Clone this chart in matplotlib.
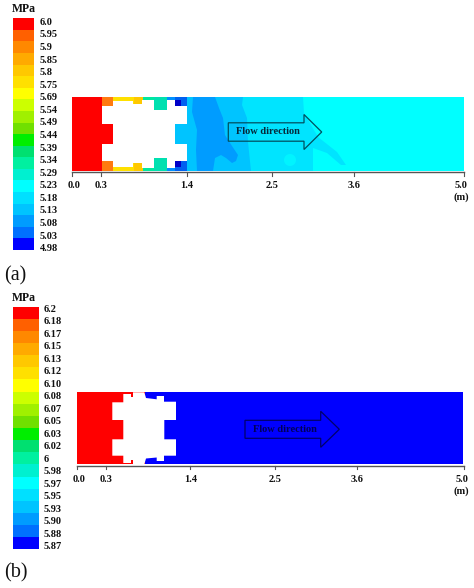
import matplotlib
matplotlib.use("Agg")
import matplotlib.pyplot as plt
from matplotlib.patches import Polygon, Rectangle, Circle

plt.rcParams['font.family'] = ['Liberation Serif', 'DejaVu Serif']

# ---- data -----------------------------------------------------------
labels_a = ["6.0","5.95","5.9","5.85","5.8","5.75","5.69","5.54","5.49","5.44",
            "5.39","5.34","5.29","5.23","5.18","5.13","5.08","5.03","4.98"]
labels_b = ["6.2","6.18","6.17","6.15","6.13","6.12","6.10","6.08","6.07","6.05",
            "6.03","6.02","6","5.98","5.97","5.95","5.93","5.90","5.88","5.87"]
swatches = ["#ff0000","#ff6000","#ff8800","#ffaa00","#ffc800","#ffe000","#ffff00",
            "#ccff00","#a0f000","#70e000","#00ee00","#00e070","#00f0a0","#00f0d0",
            "#00ffff","#00e0ff","#00c4ff","#009cff","#0070ff","#0000ff"]
tick_labels = ["0.0","0.3","1.4","2.5","3.6","5.0"]
ticks_a = [72.5,101.5,187,272.5,354.5,464]
ticks_b = [77,106,190.5,275,356.7,464.5]

W, H = 474, 588
fig = plt.figure(figsize=(W/100, H/100), dpi=100)
ax = fig.add_axes([0,0,1,1])
ax.set_xlim(0,W); ax.set_ylim(H,0); ax.axis('off')

def colorbar(x0,x1,y0,y1,labs,ly0,ly1,lx,unit_y):
    n=len(swatches); h=(y1-y0)/n
    for i,c in enumerate(swatches):
        ax.add_patch(Rectangle((x0,y0+i*h),x1-x0,h,fc=c,ec='none'))
    step=(ly1-ly0)/(len(labs)-1)
    for i,t in enumerate(labs):
        ax.text(lx,ly0+i*step,t,fontsize=7.5,fontweight='bold',va='center',ha='left',color='#111')
    ax.text(24,unit_y,"MPa",fontsize=8.5,fontweight='bold',va='center',ha='center',color='#111')

def axis_line(x,y,laby,ticks):
    ax.plot([x[0],x[-1]],[y,y],color='#555',lw=1)
    for t,l in zip(x,ticks):
        ax.plot([t,t],[y,y+3.5],color='#555',lw=0.8)
        ax.text(t+ (2 if l=="0.0" else 0) - (2.5 if l=="5.0" else 0),laby,l,fontsize=7.5,fontweight='bold',ha='center',va='center',color='#111')

def arrow(x0,xb,xt,yc,hb,hh,ec,text,tc,tx):
    pts=[(x0,yc-hb),(xb,yc-hb),(xb,yc-hh),(xt,yc),(xb,yc+hh),(xb,yc+hb),(x0,yc+hb)]
    ax.add_patch(Polygon(pts,closed=True,fc='none',ec=ec,lw=0.9,zorder=6))
    ax.text(tx,yc,text,fontsize=7.5,fontweight='bold',ha='left',va='center',color=tc,zorder=7)

# ---- panel (a) ------------------------------------------------------
colorbar(13,34.5,18.3,250,labels_a,22.3,248.7,40,9)
T,B=97,171
ax.add_patch(Rectangle((72.5,T),391.5,B-T,fc='#00ffff',ec='none'))
# downstream contour bands
ax.add_patch(Polygon([(187,T),(303,T),(304,113),(318,137),(337,152),(346,165),(341,165),(327,153),(313,148),(313,B),(187,B)],fc='#00e4ff',ec='none'))
ax.add_patch(Circle((290,160),6,fc='#00f4ff',ec='none'))
ax.add_patch(Polygon([(187,T),(243,T),(242,105),(247,118),(248,142),(251,B),(187,B)],fc='#00c4ff',ec='none'))
ax.add_patch(Polygon([(193,T),(215,T),(219,108),(223,118),(225,135),(232,146),(238,155),(236,161),(232,163),(226,158),(221,155),(215,158),(213,B),(197,B),(196,150),(197,130),(192,112)],fc='#009cff',ec='none'))
# upstream pieces
ax.add_patch(Rectangle((72.5,T),29.2,B-T,fc='#ff0000',ec='none'))
ax.add_patch(Rectangle((101.7,120),11.5,27,fc='#ff0000',ec='none'))
for y0,y1 in [(T,110),(157,B)]:
    ax.add_patch(Rectangle((101.7,y0),11.5,y1-y0,fc='#ff7a10',ec='none'))
    ax.add_patch(Rectangle((113,y0),21,y1-y0,fc='#ffe000',ec='none'))
    ax.add_patch(Rectangle((134,y0),9,y1-y0,fc='#ffc800',ec='none'))
    ax.add_patch(Rectangle((143,y0),11,y1-y0,fc='#00e8a0',ec='none'))
    ax.add_patch(Rectangle((154,y0),13,y1-y0,fc='#00e0b0',ec='none'))
    ax.add_patch(Rectangle((167,y0),8,y1-y0,fc='#0090ff',ec='none'))
    ax.add_patch(Rectangle((175,y0),11.7,y1-y0,fc='#0060f0',ec='none'))
ax.add_patch(Rectangle((175,100),6,6,fc='#0000c8',ec='none'))
ax.add_patch(Rectangle((175,161),6,6,fc='#0000c8',ec='none'))
ax.add_patch(Rectangle((175,120),12,27,fc='#00c4ff',ec='none'))
# obstruction
top=[(101.7,105.7),(113,105.7),(113,100.7),(133,100.7),(133,104),(142,104),(142,99.5),(154,99.5),(154,110),(167,110),(167,99.5),(175,99.5),(175,105.7),(186.7,105.7),(186.7,124),(175,124),(175,143.5),(186.7,143.5),(186.7,161.3)]
bot=[(175,161.3),(175,167.5),(167,167.5),(167,157.5),(154,157.5),(154,167.5),(142,167.5),(142,163),(133,163),(133,167),(113,167),(113,161.3),(101.7,161.3),(101.7,143.5),(113,143.5),(113,124),(101.7,124)]
ax.add_patch(Polygon(top+bot,fc='white',ec='none'))
arrow(228.3,304,321.7,132,9.2,17.5,'#00505f',"Flow direction",'#06283a',236)
axis_line(ticks_a,172.3,186,tick_labels)
ax.text(461,197,"(m)",fontsize=7.5,fontweight='bold',ha='center',va='center',color='#111')
ax.text(4,276,"(a)",fontsize=14.5,ha='left',va='center',color='#111')

# ---- panel (b) ------------------------------------------------------
colorbar(13,39,306.7,549.3,labels_b,309.5,546.7,44,298)
T,B=392.3,464.3
ax.add_patch(Rectangle((77,T),386.5,B-T,fc='#0000ff',ec='none'))
ax.add_patch(Rectangle((77,T),68,B-T,fc='#ff0000',ec='none'))
top=[(112.3,402.3),(123.3,402.3),(123.3,394),(131,394),(131,397),(133,397),(133,392.3),(144.3,392.3),(146,398),(156.7,399.3),(156.7,396),(164,396),(164,401.7),(176,401.7),(176,420),(164.3,420),(164.3,439.3),(176,439.3),(176,455.7)]
bot=[(164,455.7),(164,461),(156.7,461),(156.7,457.5),(146,458.5),(144.3,464.3),(133,464.3),(133,460),(131,460),(131,463),(123.3,463),(123.3,455.7),(112.3,455.7),(112.3,439.3),(123.3,439.3),(123.3,420),(112.3,420)]
ax.add_patch(Polygon(top+bot,fc='white',ec='none'))
arrow(245,320.7,339.3,429.3,9,18,'#00006a',"Flow direction",'#00005a',253)
axis_line(ticks_b,465.7,479,tick_labels)
ax.text(461.5,491,"(m)",fontsize=7.5,fontweight='bold',ha='center',va='center',color='#111')
ax.text(4,573,"(b)",fontsize=14.5,ha='left',va='center',color='#111')

fig.savefig("out.png",dpi=100)
